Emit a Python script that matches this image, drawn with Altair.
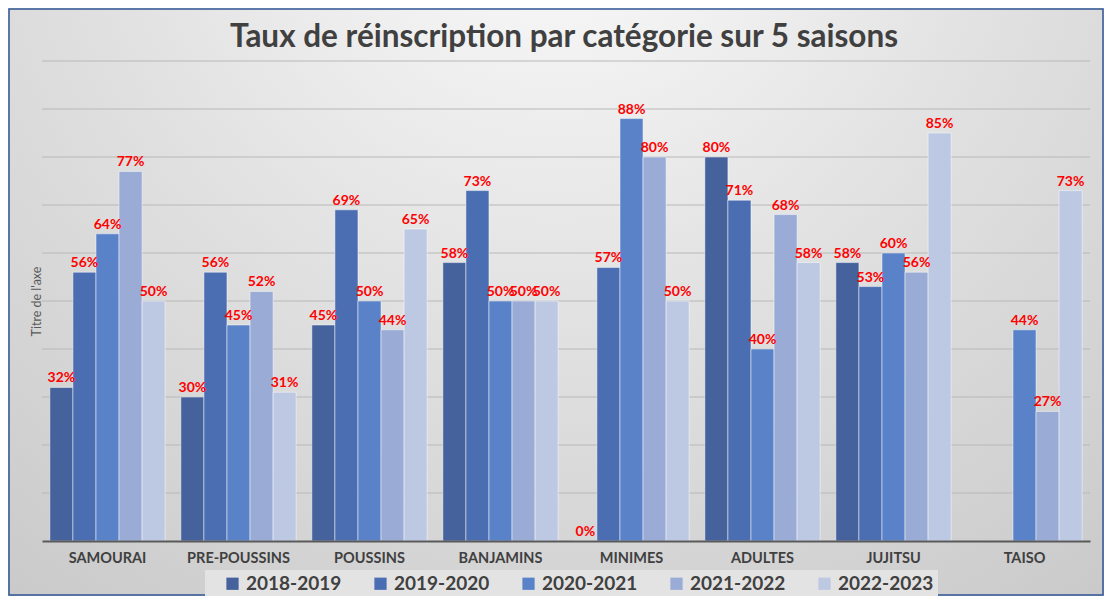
import altair as alt
import pandas as pd

categories = ["SAMOURAI", "PRE-POUSSINS", "POUSSINS", "BANJAMINS", "MINIMES", "ADULTES", "JUJITSU", "TAISO"]
seasons = ["2018-2019", "2019-2020", "2020-2021", "2021-2022", "2022-2023"]
v_2018_2019 = [32, 30, 45, 58, 0, 80, 58, None]
v_2019_2020 = [56, 56, 69, 73, 57, 71, 53, None]
v_2020_2021 = [64, 45, 50, 50, 88, 40, 60, 44]
v_2021_2022 = [77, 52, 44, 50, 80, 68, 56, 27]
v_2022_2023 = [50, 31, 65, 50, 50, 58, 85, 73]
grid_values = [10, 20, 30, 40, 50, 60, 70, 80, 90, 100]
colors = ["#45629c", "#4b6eb2", "#5a82c9", "#9aabd6", "#bdc9e3"]
title_text = "Taux de réinscription par catégorie sur 5 saisons"

series = [v_2018_2019, v_2019_2020, v_2020_2021, v_2021_2022, v_2022_2023]
rows = []
for s, vals in zip(seasons, series):
    for c, v in zip(categories, vals):
        if v is not None:
            rows.append({"cat": c, "season": s, "v": v})
df = pd.DataFrame(rows)

W, H = 1048, 480
PL, PT, PR, PB = 34, 53, 14, 55
FONT = "Lato"

x_enc = alt.X("cat:N", sort=categories,
              scale=alt.Scale(domain=categories, paddingInner=0.12, paddingOuter=0.06),
              axis=alt.Axis(title=None, labelFont=FONT, labelFontSize=14.5, labelFontWeight="bold",
                            labelColor="#404040", labelPadding=10, ticks=False, labelAngle=0,
                            domainColor="#5a5a5a", domainWidth=2, grid=False, zindex=1))
xo_enc = alt.XOffset("season:N", sort=seasons, scale=alt.Scale(domain=seasons, paddingInner=0, paddingOuter=0))
y_scale = alt.Scale(domain=[0, 100], nice=False)

bg = alt.Chart(pd.DataFrame({"a": [0]})).mark_rect(
    color=alt.RadialGradient(gradient="radial", x1=0.5, y1=0.1, r1=0, x2=0.5, y2=0.1, r2=0.85,
                             stops=[alt.GradientStop(color="#fdfdfd", offset=0),
                                    alt.GradientStop(color="#e1e1e1", offset=0.5),
                                    alt.GradientStop(color="#c9c9c9", offset=1)])
).encode(x=alt.value(-PL), x2=alt.value(W + PR), y=alt.value(-PT), y2=alt.value(H + PB))

title = alt.Chart(pd.DataFrame({"t": [title_text]})).mark_text(
    font=FONT, fontSize=31.5, fontWeight="bold", color="#404040", align="center", baseline="middle"
).encode(x=alt.value(W / 2 - 2), y=alt.value(-23), text="t:N")

grid = alt.Chart(pd.DataFrame({"g": grid_values})).mark_rule(color="#b8b8b8", strokeWidth=1).encode(
    y=alt.Y("g:Q", scale=y_scale)
)

bars = alt.Chart(df).mark_bar(stroke="white", strokeWidth=0.8, strokeOpacity=0.6).encode(
    x=x_enc,
    xOffset=xo_enc,
    y=alt.Y("v:Q", scale=y_scale,
            axis=alt.Axis(title="Titre de l'axe", labels=False, ticks=False, domain=False, grid=False,
                          titleFont=FONT, titleFontSize=12.5, titleFontWeight="normal",
                          titleColor="#595959", titlePadding=-1, zindex=1)),
    color=alt.Color("season:N", sort=seasons, scale=alt.Scale(domain=seasons, range=colors),
                    legend=alt.Legend(title=None, orient="none", legendX=163, legendY=509,
                                      direction="horizontal", columns=5, symbolType="square",
                                      symbolSize=150, symbolStrokeWidth=0, labelFont=FONT,
                                      labelFontSize=19, labelFontWeight="bold", labelColor="#404040",
                                      columnPadding=15, fillColor="#e3e3e3", padding=4,
                                      symbolOffset=14, labelOffset=4, labelLimit=200)),
)

labels = alt.Chart(df).transform_calculate(lbl="datum.v + '%'").mark_text(
    color="#ff0000", font=FONT, fontSize=14, fontWeight="bold", baseline="bottom", dy=-2
).encode(x=x_enc, xOffset=xo_enc, y=alt.Y("v:Q", scale=y_scale), text="lbl:N")

border = alt.Chart(pd.DataFrame({"a": [0]})).mark_rect(
    fillOpacity=0, stroke="#2f5597", strokeWidth=1.5
).encode(x=alt.value(-PL + 1), x2=alt.value(W + PR - 1), y=alt.value(-PT + 1), y2=alt.value(H + PB - 1))

chart = alt.layer(bg, title, grid, bars, labels, border).properties(
    width=W, height=H,
    autosize=alt.AutoSizeParams(type="none"),
    padding={"left": PL, "top": PT, "right": PR, "bottom": PB},
).configure_view(stroke=None).configure(background="#d8d8d8")

chart.save("out.html", embed_options={"renderer": "svg", "actions": False})
